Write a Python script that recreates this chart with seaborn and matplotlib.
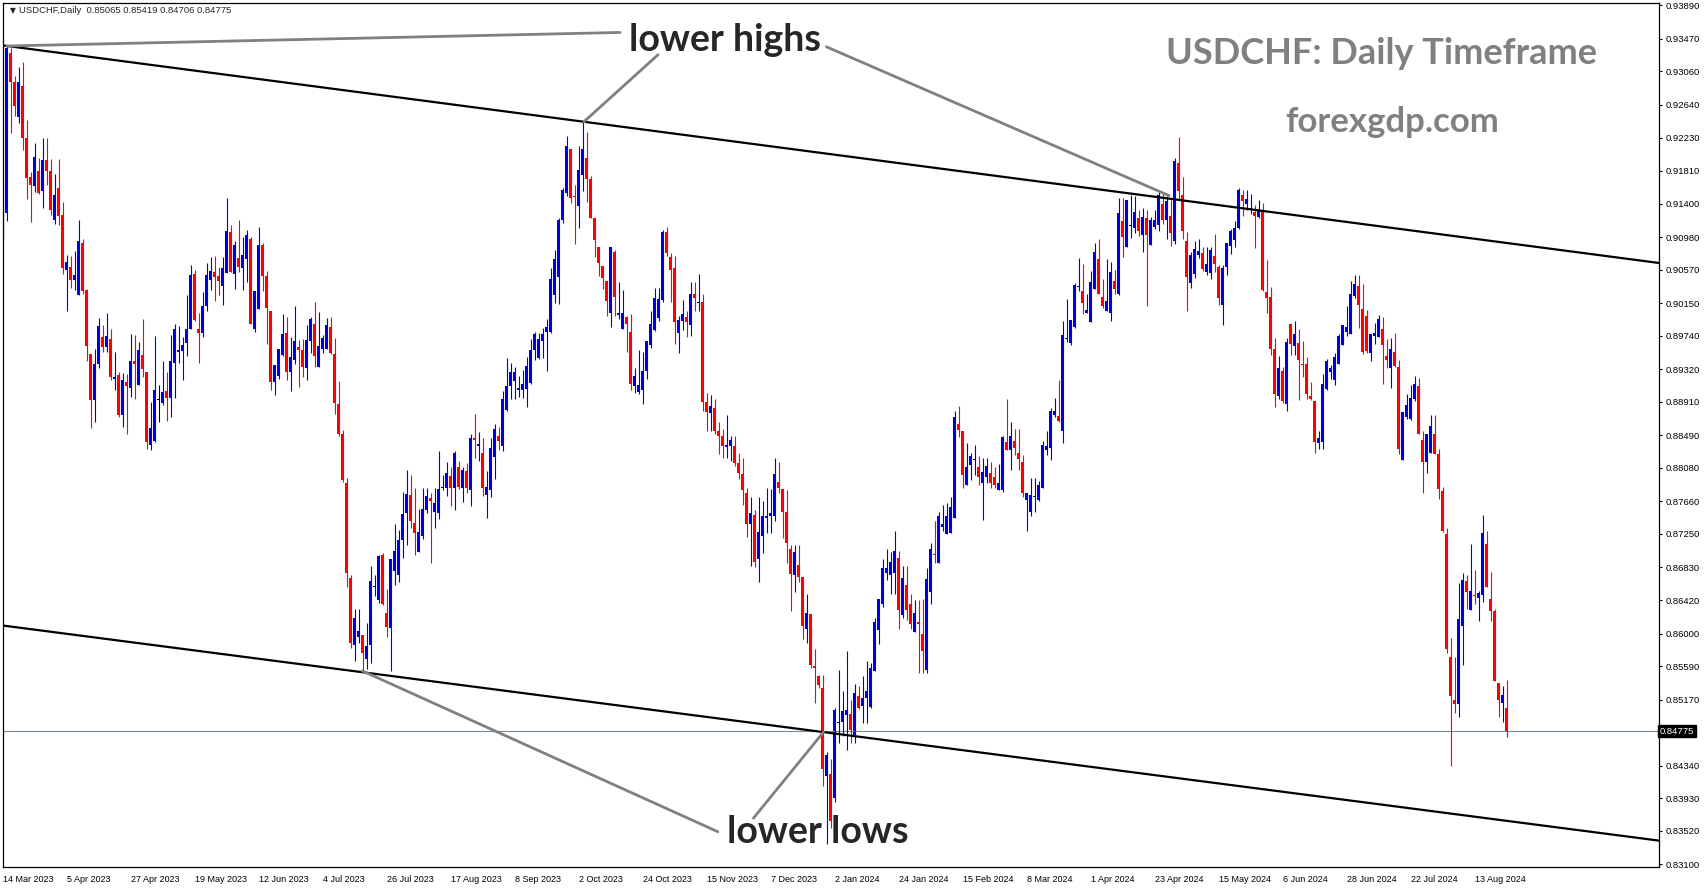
import numpy as np
import pandas as pd
import matplotlib
matplotlib.use("Agg")
import matplotlib.pyplot as plt
import seaborn as sns

# daily candles, prices in pips (x 0.0001)
opens = [9117, 9128, 9329, 9293, 9249, 9288, 9222, 9174, 9162, 9181, 9156, 9195, 9181, 9119, 9160, 9126, 9056, 9061, 9044, 9025,
         9090, 9031, 8951, 8893, 8938, 8973, 8960, 8970, 8920, 8925, 8874, 8916, 8909, 8942, 8912, 8950, 8928, 8837, 8842, 8893,
         8889, 8904, 8896, 8940, 8954, 8955, 8965, 8982, 9051, 8982, 8977, 9012, 9044, 9054, 9049, 9037, 9053, 9104, 9051, 9072,
         9059, 9071, 9095, 8982, 9007, 9088, 9049, 9005, 8916, 8923, 8950, 8977, 8929, 8943, 8960, 8956, 8934, 8968, 8989, 8935,
         8958, 8957, 8985, 8951, 8888, 8851, 8789, 8670, 8586, 8596, 8598, 8568, 8586, 8658, 8642, 8698, 8626, 8607, 8679, 8674,
         8718, 8751, 8774, 8739, 8703, 8723, 8755, 8770, 8752, 8751, 8783, 8783, 8798, 8783, 8809, 8783, 8804, 8780, 8845, 8835,
         8827, 8774, 8780, 8822, 8848, 8836, 8881, 8911, 8917, 8906, 8906, 8907, 8915, 8956, 8946, 8968, 8979, 8979, 9025, 9048,
         9119, 9153, 9208, 9150, 9137, 9176, 9197, 9171, 9122, 9086, 9062, 9043, 9002, 9079, 9000, 8983, 8997, 8979, 8911, 8903,
         8906, 8930, 8963, 8981, 8996, 9019, 9104, 9073, 9059, 8978, 8993, 8997, 8988, 9027, 9015, 9016, 8891, 8877, 8883, 8854,
         8848, 8834, 8835, 8835, 8814, 8800, 8777, 8738, 8749, 8694, 8723, 8745, 8747, 8747, 8790, 8781, 8752, 8706, 8674, 8686,
         8671, 8606, 8624, 8559, 8546, 8531, 8421, 8424, 8394, 8487, 8489, 8498, 8499, 8471, 8522, 8509, 8519, 8508, 8553, 8605,
         8637, 8676, 8673, 8676, 8695, 8623, 8661, 8637, 8602, 8614, 8599, 8554, 8652, 8700, 8688, 8734, 8725, 8726, 8745, 8863,
         8854, 8786, 8812, 8818, 8809, 8789, 8796, 8802, 8797, 8780, 8780, 8841, 8830, 8842, 8827, 8815, 8768, 8753, 8771, 8768,
         8783, 8831, 8833, 8874, 8873, 8854, 8970, 8965, 8985, 9035, 9030, 9003, 8991, 9033, 9070, 9023, 9005, 9003, 9043, 9027,
         9118, 9086, 9112, 9109, 9122, 9101, 9122, 9088, 9111, 9113, 9140, 9120, 9125, 9093, 9191, 9151, 9093, 9040, 9051, 9075,
         9078, 9054, 9053, 9074, 9061, 9013, 9061, 9087, 9094, 9109, 9151, 9140, 9133, 9130, 9123, 9130, 9029, 9023, 8957, 8898,
         8930, 8888, 8989, 8961, 8965, 8939, 8938, 8898, 8892, 8839, 8840, 8907, 8928, 8919, 8939, 8963, 8979, 8976, 9024, 9037,
         9008, 8999, 8952, 8974, 8973, 8983, 8949, 8934, 8954, 8935, 8818, 8872, 8869, 8894, 8911, 8843, 8815, 8827, 8851, 8825,
         8779, 8725, 8570, 8516, 8511, 8609, 8666, 8630, 8648, 8644, 8648, 8712, 8643, 8628, 8538, 8513, 8506.5]
highs = [9165, 9338, 9335, 9300, 9312, 9318, 9245, 9180, 9216, 9197, 9223, 9223, 9196, 9177, 9196, 9142, 9075, 9074, 9081, 9119,
         9095, 9033, 8951, 8958, 8996, 8987, 9002, 8982, 8954, 8929, 8927, 8926, 8976, 8975, 8966, 8995, 8928, 8891, 8974, 8912,
         8942, 8928, 8975, 8989, 8986, 8973, 9025, 9063, 9056, 9002, 9029, 9066, 9073, 9074, 9061, 9073, 9147, 9113, 9093, 9119,
         9098, 9107, 9098, 9030, 9110, 9090, 9055, 9005, 8937, 8958, 9001, 8998, 8972, 9012, 8969, 8970, 8987, 8998, 9017, 9004,
         8975, 8996, 8998, 8971, 8917, 8856, 8795, 8674, 8631, 8631, 8598, 8613, 8685, 8673, 8699, 8701, 8656, 8693, 8737, 8730,
         8778, 8806, 8799, 8783, 8757, 8783, 8783, 8776, 8783, 8829, 8799, 8815, 8809, 8829, 8817, 8809, 8814, 8851, 8876, 8853,
         8846, 8804, 8846, 8863, 8859, 8904, 8946, 8940, 8935, 8924, 8931, 8947, 8970, 8979, 8978, 8984, 8995, 9059, 9082, 9122,
         9159, 9225, 9208, 9164, 9212, 9243, 9230, 9175, 9122, 9086, 9062, 9043, 9086, 9082, 9041, 9031, 8999, 9001, 8934, 8956,
         8954, 8968, 9005, 9034, 9034, 9107, 9111, 9078, 9074, 8999, 9019, 9005, 9041, 9042, 9051, 9027, 8902, 8900, 8894, 8866,
         8857, 8875, 8848, 8848, 8827, 8820, 8783, 8771, 8755, 8771, 8766, 8783, 8781, 8821, 8815, 8781, 8780, 8711, 8711, 8711,
         8671, 8649, 8624, 8581, 8548, 8548, 8451, 8442, 8507, 8554, 8528, 8578, 8516, 8537, 8534, 8546, 8566, 8563, 8620, 8643,
         8694, 8706, 8703, 8729, 8704, 8685, 8685, 8649, 8642, 8642, 8643, 8682, 8714, 8741, 8753, 8762, 8764, 8772, 8880, 8886,
         8854, 8839, 8827, 8837, 8823, 8821, 8821, 8815, 8809, 8813, 8848, 8894, 8866, 8857, 8857, 8824, 8777, 8795, 8795, 8792,
         8842, 8854, 8883, 8896, 8919, 8993, 9020, 8994, 9040, 9072, 9064, 9027, 9055, 9090, 9096, 9045, 9070, 9067, 9056, 9147,
         9147, 9144, 9151, 9150, 9132, 9135, 9132, 9123, 9132, 9154, 9154, 9149, 9144, 9197, 9224, 9173, 9104, 9079, 9093, 9096,
         9085, 9085, 9085, 9102, 9063, 9063, 9091, 9108, 9118, 9159, 9157, 9157, 9152, 9138, 9144, 9141, 9069, 9035, 8971, 8949,
         8935, 8971, 8989, 8992, 8983, 8968, 8947, 8916, 8892, 8854, 8926, 8945, 8937, 8952, 8976, 8988, 9011, 9043, 9050, 9050,
         9039, 9006, 8976, 8990, 9000, 8998, 8970, 8971, 8978, 8944, 8878, 8901, 8912, 8924, 8921, 8854, 8850, 8874, 8875, 8832,
         8784, 8733, 8594, 8570, 8664, 8676, 8673, 8713, 8680, 8654, 8749, 8729, 8677, 8631, 8538, 8534, 8541.9]
lows = [9094, 9118, 9229, 9250, 9241, 9207, 9146, 9117, 9154, 9152, 9135, 9164, 9126, 9115, 9113, 9052, 9005, 9034, 9031, 9025,
        9027, 8942, 8858, 8866, 8933, 8954, 8953, 8918, 8906, 8872, 8860, 8851, 8897, 8894, 8912, 8922, 8832, 8830, 8841, 8866,
        8887, 8867, 8872, 8896, 8940, 8918, 8948, 8982, 8993, 8940, 8973, 9005, 9031, 9018, 9025, 9013, 9053, 9054, 9033, 9054,
        9032, 9042, 8989, 8979, 9007, 9030, 8964, 8906, 8899, 8920, 8948, 8918, 8905, 8939, 8910, 8922, 8918, 8952, 8935, 8935,
        8952, 8957, 8951, 8876, 8848, 8790, 8659, 8582, 8565, 8588, 8554, 8555, 8563, 8647, 8638, 8636, 8596, 8553, 8661, 8665,
        8695, 8711, 8732, 8699, 8702, 8719, 8751, 8688, 8732, 8744, 8780, 8773, 8760, 8755, 8781, 8765, 8777, 8760, 8821, 8817,
        8773, 8745, 8771, 8794, 8831, 8829, 8880, 8894, 8894, 8897, 8896, 8884, 8914, 8944, 8945, 8946, 8930, 8977, 9015, 9014,
        9116, 9150, 9141, 9089, 9109, 9156, 9142, 9122, 9073, 9049, 9033, 8999, 8985, 8999, 8995, 8983, 8954, 8906, 8902, 8901,
        8888, 8920, 8959, 8980, 8993, 9017, 9074, 9017, 8964, 8952, 8981, 8972, 8974, 9005, 9005, 8880, 8854, 8854, 8851, 8826,
        8820, 8820, 8817, 8811, 8794, 8761, 8721, 8685, 8684, 8665, 8701, 8726, 8726, 8741, 8777, 8720, 8688, 8628, 8652, 8665,
        8593, 8588, 8557, 8513, 8531, 8409, 8335, 8356, 8388, 8462, 8471, 8454, 8462, 8462, 8505, 8487, 8487, 8507, 8553, 8587,
        8633, 8667, 8649, 8649, 8606, 8620, 8617, 8606, 8602, 8551, 8551, 8551, 8637, 8689, 8688, 8729, 8725, 8726, 8745, 8847,
        8783, 8786, 8793, 8799, 8786, 8742, 8789, 8783, 8783, 8780, 8778, 8830, 8805, 8824, 8806, 8771, 8729, 8748, 8753, 8766,
        8783, 8824, 8818, 8872, 8866, 8839, 8966, 8963, 8984, 9030, 9001, 9003, 8991, 9033, 9026, 9009, 9005, 8993, 9026, 9025,
        9073, 9086, 9097, 9103, 9099, 9079, 9011, 9088, 9108, 9106, 9115, 9095, 9087, 9089, 9144, 9096, 9005, 9034, 9047, 9072,
        9055, 9050, 9045, 9054, 9013, 8987, 9050, 9077, 9085, 9108, 9125, 9132, 9127, 9084, 9122, 9030, 9002, 8950, 8885, 8894,
        8890, 8880, 8950, 8950, 8893, 8922, 8894, 8893, 8827, 8832, 8832, 8906, 8920, 8912, 8938, 8962, 8974, 8976, 9022, 8984,
        8951, 8952, 8942, 8964, 8973, 8914, 8933, 8908, 8935, 8826, 8818, 8869, 8868, 8892, 8850, 8777, 8801, 8827, 8825, 8769,
        8728, 8575, 8433, 8500, 8495, 8560, 8631, 8630, 8637, 8616, 8640, 8659, 8616, 8540, 8495, 8489, 8470.6]
closes = [9140, 9335, 9293, 9262, 9293, 9222, 9172, 9163, 9199, 9153, 9195, 9181, 9132, 9151, 9125, 9059, 9067, 9044, 9050, 9093,
          9030, 8961, 8893, 8939, 8986, 8960, 8974, 8922, 8922, 8874, 8918, 8911, 8942, 8939, 8956, 8932, 8841, 8858, 8906, 8893,
          8903, 8896, 8942, 8983, 8956, 8962, 8983, 9050, 8994, 8977, 9012, 9050, 9055, 9048, 9043, 9059, 9105, 9054, 9088, 9061,
          9075, 9100, 8989, 9030, 9088, 9049, 9009, 8916, 8937, 8957, 8976, 8929, 8947, 8968, 8956, 8935, 8969, 8995, 8948, 8961,
          8971, 8987, 8952, 8890, 8851, 8793, 8676, 8588, 8619, 8603, 8575, 8584, 8666, 8660, 8697, 8637, 8608, 8693, 8704, 8718,
          8750, 8775, 8741, 8726, 8728, 8757, 8773, 8767, 8764, 8781, 8784, 8801, 8783, 8827, 8784, 8805, 8783, 8845, 8843, 8838,
          8783, 8784, 8833, 8857, 8842, 8894, 8911, 8928, 8929, 8909, 8914, 8936, 8956, 8976, 8970, 8976, 8985, 9045, 9071, 9119,
          9157, 9212, 9147, 9148, 9182, 9208, 9171, 9122, 9094, 9065, 9047, 9018, 9085, 9023, 9002, 9002, 8989, 8914, 8923, 8912,
          8930, 8967, 8989, 9022, 9020, 9104, 9078, 9057, 8991, 8994, 9001, 8991, 9027, 9022, 9017, 8891, 8878, 8886, 8854, 8848,
          8835, 8837, 8843, 8814, 8801, 8780, 8738, 8751, 8690, 8728, 8748, 8747, 8751, 8800, 8783, 8752, 8714, 8675, 8703, 8671,
          8610, 8626, 8560, 8557, 8535, 8430, 8448, 8365, 8504, 8489, 8503, 8504, 8479, 8525, 8507, 8519, 8528, 8557, 8615, 8643,
          8682, 8682, 8690, 8704, 8629, 8670, 8629, 8612, 8626, 8612, 8578, 8669, 8706, 8698, 8747, 8738, 8747, 8759, 8872, 8856,
          8799, 8809, 8823, 8819, 8796, 8803, 8811, 8789, 8786, 8789, 8847, 8830, 8848, 8833, 8819, 8776, 8776, 8774, 8772, 8787,
          8837, 8836, 8879, 8880, 8867, 8975, 8971, 8994, 9038, 9036, 9015, 9006, 9042, 9079, 9027, 9012, 9018, 9054, 9033, 9128,
          9098, 9144, 9113, 9129, 9106, 9123, 9101, 9119, 9119, 9151, 9120, 9143, 9103, 9193, 9156, 9106, 9048, 9075, 9083, 9080,
          9058, 9064, 9082, 9064, 9021, 9059, 9090, 9106, 9109, 9157, 9143, 9146, 9134, 9124, 9132, 9031, 9021, 8957, 8901, 8934,
          8892, 8966, 8964, 8976, 8943, 8937, 8901, 8894, 8840, 8845, 8914, 8942, 8934, 8947, 8974, 8988, 8985, 9027, 9039, 9013,
          8954, 8955, 8976, 8977, 8995, 8963, 8944, 8958, 8936, 8832, 8878, 8887, 8896, 8914, 8851, 8815, 8850, 8861, 8826, 8781,
          8729, 8580, 8522, 8511, 8618, 8667, 8652, 8653, 8647, 8651, 8726, 8659, 8628, 8540, 8516, 8523, 8477.5]

date_labels = ['14 Mar 2023', '5 Apr 2023', '27 Apr 2023', '19 May 2023', '12 Jun 2023', '4 Jul 2023',
               '26 Jul 2023', '17 Aug 2023', '8 Sep 2023', '2 Oct 2023', '24 Oct 2023', '15 Nov 2023',
               '7 Dec 2023', '2 Jan 2024', '24 Jan 2024', '15 Feb 2024', '8 Mar 2024', '1 Apr 2024',
               '23 Apr 2024', '15 May 2024', '6 Jun 2024', '28 Jun 2024', '22 Jul 2024', '13 Aug 2024']
bars_per_label = 16

price_ticks = [0.93890, 0.93470, 0.93060, 0.92640, 0.92230, 0.91810, 0.91400, 0.90980, 0.90570,
               0.90150, 0.89740, 0.89320, 0.88910, 0.88490, 0.88080, 0.87660, 0.87250, 0.86830,
               0.86420, 0.86000, 0.85590, 0.85170, 0.84340, 0.83930, 0.83520, 0.83100]
last_price = 0.84775
header = "USDCHF,Daily  0.85065 0.85419 0.84706 0.84775"

# channel lines and pointer lines: (bar, price) end points
upper_channel = ([0, 414], [0.93387, 0.90655])
lower_channel = ([0, 414], [0.86100, 0.83399])
pointers = [([1, 154.3], [0.9338, 0.9355]),
            ([145.3, 163.8], [0.9243, 0.9327]),
            ([205.9, 291.6], [0.9337, 0.9150]),
            ([89.85, 178.75], [0.8553, 0.8351]),
            ([205.15, 187.65], [0.8476, 0.8368])]

sns.set_style("white")
plt.rcParams['font.family'] = ['Liberation Sans', 'DejaVu Sans']

df = pd.DataFrame({'open': opens, 'high': highs, 'low': lows, 'close': closes}) / 10000.0
df['bar'] = np.arange(len(df))
df['color'] = np.where(df['close'] > df['open'], '#0000DD',
                       np.where(df['close'] < df['open'], '#FF0000', '#000000'))

fig = plt.figure(figsize=(17.05, 8.88), dpi=100)
ax = fig.add_axes([3 / 1705, 21 / 888, 1656 / 1705, 864 / 888])

ax.vlines(df['bar'], df['low'], df['high'], colors=df['color'], linewidth=0.8)
body_lo = df[['open', 'close']].min(axis=1)
body_h = (df['close'] - df['open']).abs().clip(lower=0.00012)
ax.bar(df['bar'], body_h, bottom=body_lo, width=0.75, color=df['color'], linewidth=0)

ax.axhline(last_price, color='#778899', lw=0.8, zorder=1)

for xs, ys in [upper_channel, lower_channel]:
    sns.lineplot(x=xs, y=ys, color='black', lw=1.6, ax=ax)
for xs, ys in pointers:
    sns.lineplot(x=xs, y=ys, color='#808080', lw=2.0, ax=ax)

ax.text(180.6, 0.9346, 'lower highs', fontsize=27, fontweight='bold', family='Lato',
        ha='center', va='center')
ax.text(203.8, 0.8351, 'lower lows', fontsize=27, fontweight='bold', family='Lato',
        ha='center', va='center')
ax.text(344.6, 0.9328, 'USDCHF: Daily Timeframe', fontsize=26, fontweight='bold', family='Lato',
        color='#808080', ha='center', va='center')
ax.text(347.3, 0.9243, 'forexgdp.com', fontsize=25, fontweight='bold', family='Lato',
        color='#808080', ha='center', va='center')

ax.text(0.0045, 0.991, '\u25bc', transform=ax.transAxes, fontsize=5.5, family='DejaVu Sans',
        ha='left', va='center')
ax.text(0.0095, 0.991, header, transform=ax.transAxes, fontsize=6.8, ha='left', va='center')

ax.set_xlim(0.075, 414.1)
ax.set_ylim(0.83067, 0.93920)

ax.yaxis.tick_right()
ax.set_yticks(price_ticks)
ax.set_yticklabels([f'{p:.5f}' for p in price_ticks])
ax.tick_params(axis='y', direction='out', length=2.5, width=0.8, pad=2, labelsize=6.8, colors='black')

ax.set_xticks(np.arange(len(date_labels)) * bars_per_label)
ax.set_xticklabels(date_labels, ha='left')
ax.tick_params(axis='x', direction='out', length=4, width=0.8, pad=2, labelsize=6.5, colors='black')
ax.set_xlabel('')
ax.set_ylabel('')

ax.text(1.0005, last_price, '0.84775', transform=ax.get_yaxis_transform(), fontsize=6.8,
        color='white', ha='left', va='center',
        bbox=dict(boxstyle='square,pad=0.15', facecolor='black', edgecolor='black'))

for s in ax.spines.values():
    s.set_visible(True)
    s.set_color('black')
    s.set_linewidth(0.9)

fig.savefig('out.png', dpi=100)
